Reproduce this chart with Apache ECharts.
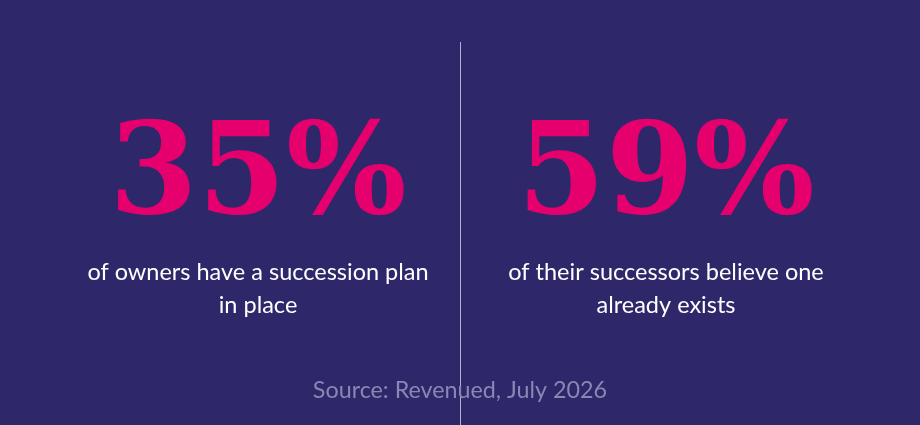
<!DOCTYPE html>
<html>
<head>
<meta charset="utf-8">
<script src="https://cdn.jsdelivr.net/npm/echarts@6/dist/echarts.min.js"></script>
<style>
  html, body { margin: 0; padding: 0; background: #2e286b; }
  #chart { width: 920px; height: 425px; }
</style>
</head>
<body>
<div id="chart"></div>
<script>
// stat values and their captions
var values = [35, 59];
var captions = [
    'of owners have a succession plan\nin place',
    'of their successors believe one\nalready exists'
];
var sourceText = 'Source: Revenued, July 2026';

var centers = [258, 666];   // column centres

var chart = echarts.init(document.getElementById('chart'));

var graphics = [];
// divider
graphics.push({
    type: 'line',
    shape: { x1: 460.5, y1: 42, x2: 460.5, y2: 425 },
    style: { stroke: '#b4b1cc', lineWidth: 1 }
});

values.forEach(function (v, i) {
    graphics.push({
        type: 'text',
        x: centers[i],
        y: 180,
        style: {
            text: v + '%',
            fill: '#e6006e',
            font: 'bold 127px "DejaVu Serif"',
            align: 'center',
            verticalAlign: 'middle'
        }
    });
    graphics.push({
        type: 'text',
        x: centers[i],
        y: 289,
        style: {
            text: captions[i],
            fill: '#ffffff',
            font: '23.5px Lato',
            lineHeight: 33,
            align: 'center',
            verticalAlign: 'middle'
        }
    });
});

graphics.push({
    type: 'text',
    x: 460,
    y: 390,
    style: {
        text: sourceText,
        fill: '#8b86b4',
        font: '23.3px Lato',
        align: 'center',
        verticalAlign: 'middle'
    }
});

chart.setOption({
    backgroundColor: '#2e286b',
    graphic: graphics
});
</script>
</body>
</html>
